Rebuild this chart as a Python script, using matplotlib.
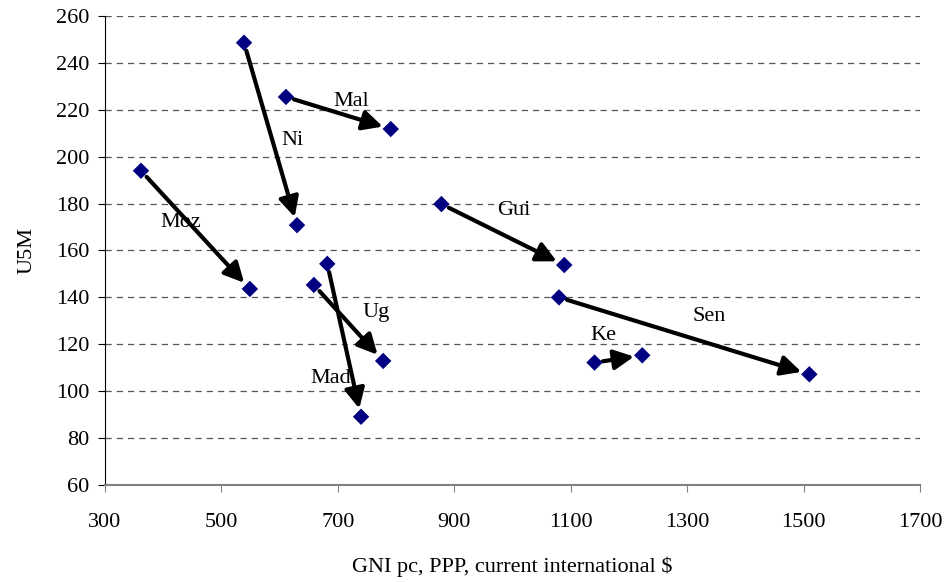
import matplotlib

matplotlib.use("Agg")
import matplotlib.pyplot as plt

# country, start (GNI, U5M), end (GNI, U5M), label position
countries = ["Moz", "Ni", "Mal", "Ug", "Mad", "Gui", "Sen", "Ke"]
gni_start = [362, 539, 611, 659, 682, 878, 1080, 1141]
u5m_start = [194, 248.6, 225.5, 145.3, 154.3, 179.8, 140, 112.2]
gni_end = [549, 630, 791, 778, 740, 1089, 1510, 1223]
u5m_end = [143.6, 170.8, 211.8, 112.9, 89.1, 153.8, 107.2, 115.3]
label_x = [431, 622, 724, 766, 687, 1003, 1338, 1156]
label_y = [172, 207, 223.5, 133.4, 105.4, 177, 131.7, 123.6]

x_ticks = [300, 500, 700, 900, 1100, 1300, 1500, 1700]
y_ticks = list(range(60, 261, 20))

plt.rcParams["font.family"] = ["Liberation Serif", "DejaVu Serif"]

fig = plt.figure(figsize=(9.45, 5.82), dpi=100)
ax = fig.add_axes([0.111, 0.1667, 0.8625, 0.8058])

for i, name in enumerate(countries):
    ax.annotate(
        "",
        xy=(gni_end[i], u5m_end[i]),
        xytext=(gni_start[i], u5m_start[i]),
        arrowprops=dict(arrowstyle="-|>", color="black", lw=3, mutation_scale=30,
                        shrinkA=6, shrinkB=6),
        zorder=2,
    )
    ax.text(label_x[i], label_y[i], name, fontsize=16, ha="center", va="center", zorder=4)

ax.scatter(gni_start + gni_end, u5m_start + u5m_end, marker="D", s=70, color="#000080",
           edgecolors="none", zorder=3)

ax.set_xlim(300, 1700)
ax.set_ylim(60, 260)
ax.set_xticks(x_ticks)
ax.set_yticks(y_ticks)
ax.tick_params(labelsize=16, direction="out", length=5, color="#808080")
ax.tick_params(axis="y", color="black")
ax.yaxis.grid(True, linestyle=(0, (5, 4)), color="#555555", linewidth=0.9)
ax.set_axisbelow(True)
ax.spines["top"].set_visible(False)
ax.spines["right"].set_visible(False)
ax.spines["bottom"].set_color("#808080")
ax.spines["bottom"].set_linewidth(1.5)
ax.spines["left"].set_color("black")
ax.tick_params(axis="x", pad=15)
ax.tick_params(axis="y", pad=6)
ax.set_xlabel("GNI pc, PPP, current international $", fontsize=16, labelpad=18)
ax.set_ylabel("U5M", fontsize=16, labelpad=14)

fig.savefig("out.png", dpi=100)
